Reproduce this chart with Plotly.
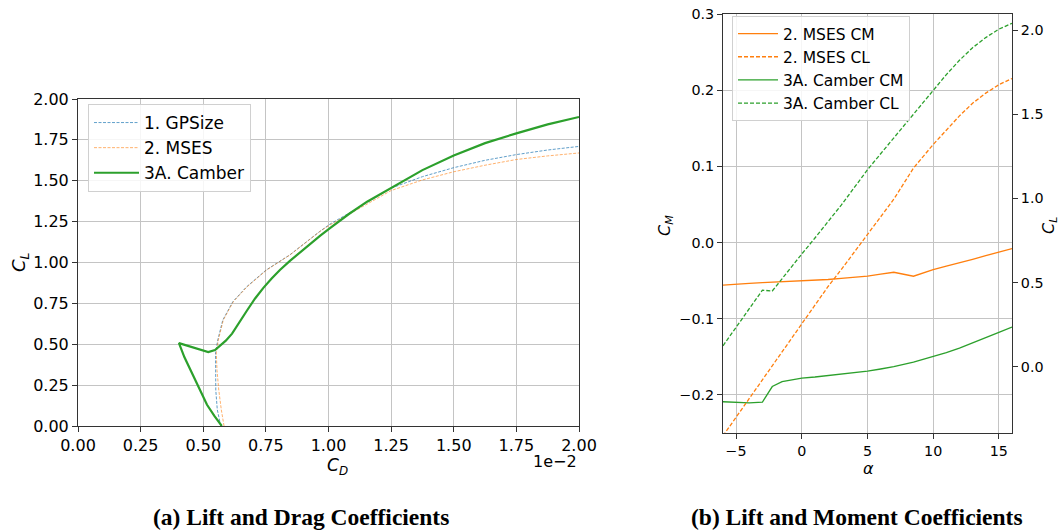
import plotly.graph_objects as go

# ---- (a) lift vs drag polars; drag in units of 1e-2 ----
gps_cd = [0.570, 0.556, 0.550, 0.548, 0.549, 0.558, 0.578, 0.618, 0.672, 0.751, 0.845, 0.965,
          1.006, 1.125, 1.250, 1.375, 1.500, 1.625, 1.750, 1.875, 2.000]
gps_cl = [0.000, 0.100, 0.220, 0.340, 0.447, 0.526, 0.648, 0.760, 0.850, 0.954, 1.046, 1.190,
          1.235, 1.340, 1.455, 1.525, 1.580, 1.625, 1.660, 1.688, 1.710]

mses_cd = [0.583, 0.572, 0.562, 0.555, 0.552, 0.560, 0.580, 0.620, 0.674, 0.753, 0.846, 0.966,
           1.006, 1.125, 1.250, 1.375, 1.500, 1.625, 1.750, 1.875, 2.000]
mses_cl = [0.000, 0.100, 0.220, 0.340, 0.447, 0.526, 0.648, 0.760, 0.850, 0.954, 1.046, 1.190,
           1.230, 1.330, 1.440, 1.505, 1.555, 1.595, 1.630, 1.652, 1.670]

camber_cd = [0.574, 0.545, 0.515, 0.487, 0.455, 0.425, 0.403, 0.460, 0.520, 0.547, 0.570,
             0.590, 0.615, 0.643, 0.674, 0.707, 0.740, 0.773, 0.806, 0.846, 0.886, 0.926,
             0.966, 1.006, 1.080, 1.154, 1.253, 1.375, 1.500, 1.625, 1.750, 1.875, 2.000]
camber_cl = [0.000, 0.060, 0.130, 0.220, 0.320, 0.420, 0.507, 0.478, 0.452, 0.465, 0.495,
             0.522, 0.565, 0.635, 0.705, 0.780, 0.845, 0.902, 0.954, 1.010, 1.062, 1.113,
             1.163, 1.210, 1.295, 1.372, 1.460, 1.565, 1.655, 1.730, 1.790, 1.845, 1.890]

cd_ticks = [0.0, 0.25, 0.5, 0.75, 1.0, 1.25, 1.5, 1.75, 2.0]
cl_ticks = [0.0, 0.25, 0.5, 0.75, 1.0, 1.25, 1.5, 1.75, 2.0]

# ---- (b) moment and lift vs angle of attack ----
alpha = [-6, -5, -4, -3, -2.25, -1.5, -0.75, 0, 1, 2, 3, 4, 5, 6, 7, 8.5, 10, 11, 12, 13, 14, 15, 16]
mses_cm_a = [-0.0560, -0.0545, -0.0535, -0.0525, -0.0520, -0.0513, -0.0510, -0.0505, -0.0495,
             -0.0485, -0.0470, -0.0455, -0.0440, -0.0415, -0.0390, -0.0442, -0.0355, -0.0310,
             -0.0268, -0.0220, -0.0172, -0.0125, -0.0080]
mses_cl_a = [-0.410, -0.300, -0.190, -0.080, 0.005, 0.090, 0.172, 0.255, 0.366, 0.477, 0.577,
             0.682, 0.786, 0.890, 0.995, 1.180, 1.320, 1.405, 1.490, 1.565, 1.625, 1.675, 1.712]
camber_cm_a = [-0.2090, -0.2095, -0.2105, -0.2095, -0.1890, -0.1825, -0.1800, -0.1780, -0.1765,
               -0.1748, -0.1728, -0.1708, -0.1688, -0.1660, -0.1630, -0.1570, -0.1500, -0.1445,
               -0.1385, -0.1320, -0.1255, -0.1180, -0.1110]
camber_cl_a = [0.125, 0.235, 0.345, 0.455, 0.450, 0.525, 0.600, 0.670, 0.765, 0.860, 0.960,
               1.065, 1.170, 1.265, 1.360, 1.500, 1.645, 1.735, 1.820, 1.895, 1.955, 2.005, 2.040]

alpha_ticks = [-5, 0, 5, 10, 15]
cm_ticks = [-0.2, -0.1, 0.0, 0.1, 0.2, 0.3]
clr_ticks = [0.0, 0.5, 1.0, 1.5, 2.0]

BLUE, ORANGE, GREEN = "#1f77b4", "#ff7f0e", "#2ca02c"
FONT = "DejaVu Sans"
SPINE = "#333333"
GRID = "#c4c4c4"


def fmt(v, nd):
    s = f"{v:.{nd}f}"
    return s.replace("-", "\u2212")


fig = go.Figure()

fig.add_trace(go.Scatter(x=gps_cd, y=gps_cl, mode="lines", name="1. GPSize",
                         line=dict(color=BLUE, width=1, dash="3px,1.5px"), opacity=0.7,
                         xaxis="x", yaxis="y", legend="legend"))
fig.add_trace(go.Scatter(x=mses_cd, y=mses_cl, mode="lines", name="2. MSES",
                         line=dict(color=ORANGE, width=1, dash="3px,1.5px"), opacity=0.6,
                         xaxis="x", yaxis="y", legend="legend"))
fig.add_trace(go.Scatter(x=camber_cd, y=camber_cl, mode="lines", name="3A. Camber",
                         line=dict(color=GREEN, width=2.2),
                         xaxis="x", yaxis="y", legend="legend"))

fig.add_trace(go.Scatter(x=alpha, y=mses_cm_a, mode="lines", name="2. MSES CM",
                         line=dict(color=ORANGE, width=1.3),
                         xaxis="x2", yaxis="y2", legend="legend2"))
fig.add_trace(go.Scatter(x=alpha, y=mses_cl_a, mode="lines", name="2. MSES CL",
                         line=dict(color=ORANGE, width=1.3, dash="4px,2px"),
                         xaxis="x2", yaxis="y3", legend="legend2"))
fig.add_trace(go.Scatter(x=alpha, y=camber_cm_a, mode="lines", name="3A. Camber CM",
                         line=dict(color=GREEN, width=1.3),
                         xaxis="x2", yaxis="y2", legend="legend2"))
fig.add_trace(go.Scatter(x=alpha, y=camber_cl_a, mode="lines", name="3A. Camber CL",
                         line=dict(color=GREEN, width=1.3, dash="4px,2px"),
                         xaxis="x2", yaxis="y3", legend="legend2"))

W, H = 1061, 531
axis_common = dict(showline=True, linecolor=SPINE, linewidth=1, ticks="outside", ticklen=5,
                   tickcolor=SPINE, tickwidth=1, zeroline=False, color="#000",
                   automargin=False)

fig.update_layout(
    width=W, height=H, margin=dict(l=0, r=0, t=0, b=0, autoexpand=False),
    paper_bgcolor="white", plot_bgcolor="white",
    font=dict(family=FONT, color="#000"),
    xaxis=dict(domain=[78 / W, 579 / W], range=[0, 2], anchor="y",
               tickvals=cd_ticks, ticktext=[fmt(v, 2) for v in cd_ticks],
               tickfont=dict(size=16), showgrid=True, gridcolor=GRID, gridwidth=1,
               mirror=True, **axis_common),
    yaxis=dict(domain=[1 - 426 / H, 1 - 99 / H], range=[0, 2], anchor="x",
               tickvals=cl_ticks, ticktext=[fmt(v, 2) for v in cl_ticks],
               tickfont=dict(size=16), showgrid=True, gridcolor=GRID, gridwidth=1,
               mirror=True, **axis_common),
    xaxis2=dict(domain=[723 / W, 1012 / W], range=[-6, 16], anchor="y2",
                tickvals=alpha_ticks, ticktext=[fmt(v, 0) for v in alpha_ticks],
                tickfont=dict(size=14.3), showgrid=True, gridcolor=GRID, gridwidth=1,
                mirror=True, **axis_common),
    yaxis2=dict(domain=[1 - 433 / H, 1 - 14 / H], range=[-0.25, 0.3], anchor="x2",
                tickvals=cm_ticks, ticktext=[fmt(v, 1) for v in cm_ticks],
                tickfont=dict(size=14.3), showgrid=True, gridcolor=GRID, gridwidth=1,
                **axis_common),
    yaxis3=dict(range=[-0.393, 2.095], anchor="x2", overlaying="y2", side="right",
                tickvals=clr_ticks, ticktext=[fmt(v, 1) for v in clr_ticks],
                tickfont=dict(size=14.3), showgrid=False, **axis_common),
    legend=dict(x=88 / W, y=1 - 104 / H, xanchor="left", yanchor="top",
                bgcolor="rgba(255,255,255,0.85)", bordercolor="#d0d0d0", borderwidth=1,
                font=dict(size=17, family=FONT), tracegroupgap=0, itemwidth=45),
    legend2=dict(x=732 / W, y=1 - 16 / H, xanchor="left", yanchor="top",
                 bgcolor="rgba(255,255,255,0.85)", bordercolor="#d0d0d0", borderwidth=1,
                 font=dict(size=15.5, family=FONT), tracegroupgap=0, itemwidth=40),
    showlegend=True,
)

ann = [
    dict(x=20 / W, y=1 - 262 / H, text="<i>C</i><sub><i>L</i></sub>", textangle=-90, font=dict(size=18)),
    dict(x=337 / W, y=1 - 466 / H, text="<i>C</i><sub><i>D</i></sub>", font=dict(size=17)),
    dict(x=555 / W, y=1 - 461 / H, text="1e\u22122", font=dict(size=16)),
    dict(x=665 / W, y=1 - 226 / H, text="<i>C</i><sub><i>M</i></sub>", textangle=-90, font=dict(size=16)),
    dict(x=868 / W, y=1 - 468 / H, text="<i>\u03b1</i>", font=dict(size=16)),
    dict(x=1049 / W, y=1 - 226 / H, text="<i>C</i><sub><i>L</i></sub>", textangle=-90, font=dict(size=16)),
    dict(x=301 / W, y=1 - 517 / H, text="<b>(a) Lift and Drag Coefficients</b>",
         font=dict(size=23.5, family="Liberation Serif")),
    dict(x=857 / W, y=1 - 517 / H, text="<b>(b) Lift and Moment Coefficients</b>",
         font=dict(size=23.5, family="Liberation Serif")),
]
for a in ann:
    a.update(xref="paper", yref="paper", showarrow=False, xanchor="center", yanchor="middle")
    a["font"].setdefault("family", FONT)
    a["font"].setdefault("color", "#000")
fig.update_layout(annotations=ann)

fig.write_html("out.html")
